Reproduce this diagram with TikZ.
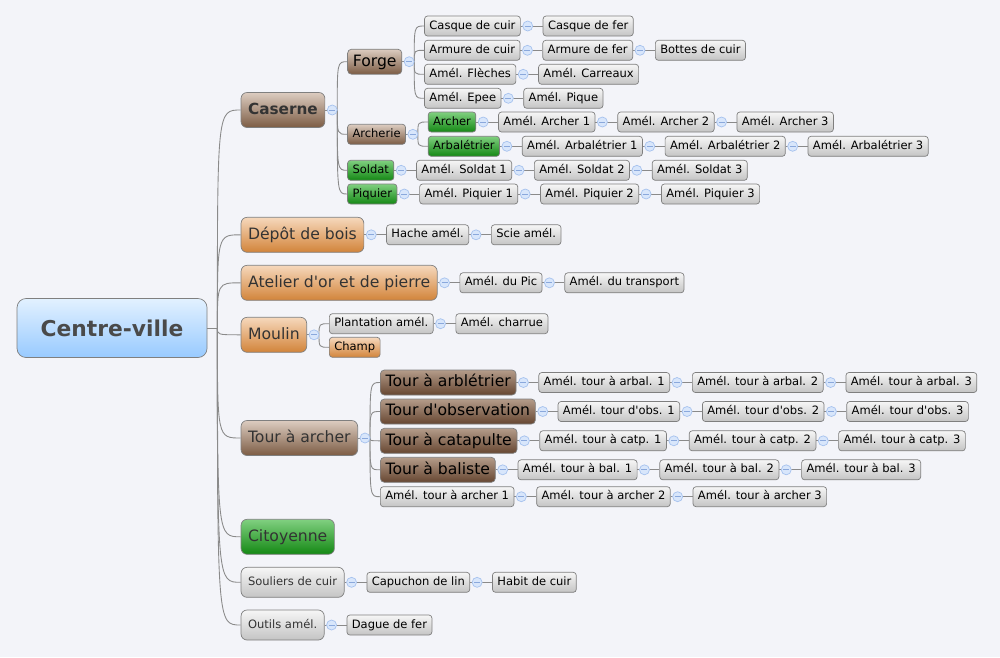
\documentclass[tikz,border=0pt]{standalone}
\usepackage{fontspec}
\setmainfont{DejaVu Sans}
\usetikzlibrary{positioning}
\definecolor{paper}{HTML}{F3F4F9}
\definecolor{edge}{HTML}{7F7F7F}
\definecolor{wire}{HTML}{8A8A8A}
\definecolor{ink}{HTML}{333333}
\definecolor{rootink}{HTML}{4A4A4A}
\definecolor{greytop}{HTML}{F6F6F6}
\definecolor{greybot}{HTML}{C4C4C4}
\definecolor{tantop}{HTML}{DCCCC0}
\definecolor{tanbot}{HTML}{7C5C44}
\definecolor{darktop}{HTML}{B49C8A}
\definecolor{darkbot}{HTML}{664631}
\definecolor{orangetop}{HTML}{F6D8BC}
\definecolor{orangebot}{HTML}{D2843A}
\definecolor{greentop}{HTML}{80D080}
\definecolor{greenbot}{HTML}{148814}
\definecolor{bluetop}{HTML}{E2F1FF}
\definecolor{bluebot}{HTML}{98CAFF}
\definecolor{foldfill}{HTML}{D8E6FB}
\definecolor{folddraw}{HTML}{A6C2EE}
\definecolor{foldbar}{HTML}{8AA8DC}
\tikzset{node distance = 4.4mm,
         mapbox/.style = {draw = edge, anchor = west, inner ysep = 0pt},
         leafsize/.style = {mapbox, rounded corners = 0.6mm,
           font = \fontsize{6.55}{7.5}\selectfont,
           text height = 5pt, text depth = 1.4pt,
           inner xsep = 2.8pt, minimum height = 4mm},
         subsize/.style = {mapbox, rounded corners = 0.8mm,
           font = \fontsize{8.9}{10.5}\selectfont,
           text height = 6.8pt, text depth = 1.9pt,
           inner xsep = 3pt, minimum height = 5mm},
         mainsize/.style = {subsize, rounded corners = 1.2mm, text = ink,
           inner xsep = 4pt, minimum height = 7mm},
         mainleafsize/.style = {leafsize, rounded corners = 1.2mm, text = ink,
           inner xsep = 4pt, minimum height = 6mm},
         headline/.style = {font = \fontsize{8.7}{10}\selectfont\bfseries},
         rootbox/.style = {mapbox, rounded corners = 1.8mm, text = rootink,
           font = \fontsize{12.4}{14}\selectfont\bfseries,
           minimum width = 3.8cm, minimum height = 11.8mm,
           top color = bluetop, bottom color = bluebot},
         greyfill/.style = {top color = greytop, bottom color = greybot},
         tanfill/.style = {top color = tantop, bottom color = tanbot},
         darkfill/.style = {top color = darktop, bottom color = darkbot},
         orangefill/.style = {top color = orangetop, bottom color = orangebot},
         greenfill/.style = {top color = greentop, bottom color = greenbot},
         link/.style = {draw = wire, line width = 0.5pt},
         fold/.style = {circle, draw = folddraw, fill = foldfill,
           minimum size = 2mm, inner sep = 0pt,
           path picture = {\draw[foldbar, line width = 0.4pt]
             ([xshift = -0.6mm]path picture bounding box.center) --
             ([xshift = 0.6mm]path picture bounding box.center);}}}

% collapse mark right of a node
\newcommand{\foldmark}[1]{\node[fold] at ([xshift = 1.4mm]#1.east) {};}
% one child on the same row
\newcommand{\chainlink}[2]{\draw[link] (#1.east) -- (#2.west); \foldmark{#1}}
% several children
\newcommand{\branchlinks}[2]{%
  \draw[link] (#1.east) -- ++(2.4mm,0) coordinate (#1-fork);
  \foreach \kid in {#2}
    \draw[link] (#1-fork) .. controls (#1-fork |- \kid.west) .. (\kid.west);
  \foldmark{#1}}

\begin{document}
\begin{tikzpicture}[x = 0.02cm, y = -0.02cm]
    \fill[paper] (0,0) rectangle (1000,657);
    \useasboundingbox (0,0) rectangle (1000,657);

    \node[rootbox]                  (centre)    at (16.7,328)    {Centre-ville};

    % first level
    \node[mainsize, tanfill, headline] (caserne) at (240.7,110)  {Caserne};
    \node[mainsize, orangefill]     (depot)     at (240.7,234.8) {Dépôt de bois};
    \node[mainsize, orangefill]     (atelier)   at (240.7,282.8) {Atelier d\textquotesingle or et de pierre};
    \node[mainsize, orangefill]     (moulin)    at (240.7,334.8) {Moulin};
    \node[mainsize, tanfill]        (tour)      at (240.7,438)   {Tour à archer};
    \node[mainsize, greenfill]      (citoyenne) at (240.7,536.8) {Citoyenne};
    \node[mainleafsize, greyfill]   (souliers)  at (240.7,582.3) {Souliers de cuir};
    \node[mainleafsize, greyfill]   (outils)    at (240.7,625)   {Outils amél.};

    % Caserne
    \node[subsize, tanfill]         (forge)     at ([xshift = 4.4mm]caserne.east |- 0,61.7) {Forge};
    \node[leafsize, tanfill]        (archerie)  at ([xshift = 4.4mm]caserne.east |- 0,134.3) {Archerie};
    \node[leafsize, greenfill]      (soldat)    at ([xshift = 4.4mm]caserne.east |- 0,170.3) {Soldat};
    \node[leafsize, greenfill]      (piquier)   at ([xshift = 4.4mm]caserne.east |- 0,194) {Piquier};

    \node[leafsize, greyfill]       (casque)    at ([xshift = 4.4mm]forge.east |- 0,26)   {Casque de cuir};
    \node[leafsize, greyfill]       (armure)    at ([xshift = 4.4mm]forge.east |- 0,50.3) {Armure de cuir};
    \node[leafsize, greyfill]       (fleches)   at ([xshift = 4.4mm]forge.east |- 0,74.3) {Amél. Flèches};
    \node[leafsize, greyfill]       (epee)      at ([xshift = 4.4mm]forge.east |- 0,98.3) {Amél. Epee};
    \node[leafsize, greyfill]       (casquefer) [right = of casque]    {Casque de fer};
    \node[leafsize, greyfill]       (armurefer) [right = of armure]    {Armure de fer};
    \node[leafsize, greyfill]       (bottes)    [right = of armurefer] {Bottes de cuir};
    \node[leafsize, greyfill]       (carreaux)  [right = of fleches]   {Amél. Carreaux};
    \node[leafsize, greyfill]       (pique)     [right = of epee]      {Amél. Pique};

    \node[leafsize, greenfill]      (archer)    at ([xshift = 4.4mm]archerie.east |- 0,122)   {Archer};
    \node[leafsize, greenfill]      (arbal)     at ([xshift = 4.4mm]archerie.east |- 0,146.3) {Arbalétrier};
    \node[leafsize, greyfill]       (archer1)   [right = of archer]  {Amél. Archer 1};
    \node[leafsize, greyfill]       (archer2)   [right = of archer1] {Amél. Archer 2};
    \node[leafsize, greyfill]       (archer3)   [right = of archer2] {Amél. Archer 3};
    \node[leafsize, greyfill]       (arbal1)    [right = of arbal]   {Amél. Arbalétrier 1};
    \node[leafsize, greyfill]       (arbal2)    [right = of arbal1]  {Amél. Arbalétrier 2};
    \node[leafsize, greyfill]       (arbal3)    [right = of arbal2]  {Amél. Arbalétrier 3};

    \node[leafsize, greyfill]       (soldat1)   [right = of soldat]   {Amél. Soldat 1};
    \node[leafsize, greyfill]       (soldat2)   [right = of soldat1]  {Amél. Soldat 2};
    \node[leafsize, greyfill]       (soldat3)   [right = of soldat2]  {Amél. Soldat 3};
    \node[leafsize, greyfill]       (piquier1)  [right = of piquier]  {Amél. Piquier 1};
    \node[leafsize, greyfill]       (piquier2)  [right = of piquier1] {Amél. Piquier 2};
    \node[leafsize, greyfill]       (piquier3)  [right = of piquier2] {Amél. Piquier 3};

    % resources
    \node[leafsize, greyfill]       (hache)     [right = of depot]   {Hache amél.};
    \node[leafsize, greyfill]       (scie)      [right = of hache]   {Scie amél.};
    \node[leafsize, greyfill]       (pic)       [right = of atelier] {Amél. du Pic};
    \node[leafsize, greyfill]       (transport) [right = of pic]     {Amél. du transport};
    \node[leafsize, greyfill]       (plantation) at ([xshift = 4.4mm]moulin.east |- 0,323.7) {Plantation amél.};
    \node[leafsize, orangefill]     (champ)     at ([xshift = 4.4mm]moulin.east |- 0,347.3)  {Champ};
    \node[leafsize, greyfill]       (charrue)   [right = of plantation] {Amél. charrue};

    % Tour a archer
    \node[subsize, darkfill]        (tarbal)    at ([xshift = 4.4mm]tour.east |- 0,382.5) {Tour à arblétrier};
    \node[subsize, darkfill]        (tobs)      at ([xshift = 4.4mm]tour.east |- 0,411.5) {Tour d\textquotesingle observation};
    \node[subsize, darkfill]        (tcatp)     at ([xshift = 4.4mm]tour.east |- 0,440.8) {Tour à catapulte};
    \node[subsize, darkfill]        (tbal)      at ([xshift = 4.4mm]tour.east |- 0,469.8) {Tour à baliste};
    \node[leafsize, greyfill]       (tarch1)    at ([xshift = 4.4mm]tour.east |- 0,496.7) {Amél. tour à archer 1};
    \node[leafsize, greyfill]       (tarbal1)   [right = of tarbal]  {Amél. tour à arbal. 1};
    \node[leafsize, greyfill]       (tarbal2)   [right = of tarbal1] {Amél. tour à arbal. 2};
    \node[leafsize, greyfill]       (tarbal3)   [right = of tarbal2] {Amél. tour à arbal. 3};
    \node[leafsize, greyfill]       (tobs1)     [right = of tobs]    {Amél. tour d\textquotesingle obs. 1};
    \node[leafsize, greyfill]       (tobs2)     [right = of tobs1]   {Amél. tour d\textquotesingle obs. 2};
    \node[leafsize, greyfill]       (tobs3)     [right = of tobs2]   {Amél. tour d\textquotesingle obs. 3};
    \node[leafsize, greyfill]       (tcatp1)    [right = of tcatp]   {Amél. tour à catp. 1};
    \node[leafsize, greyfill]       (tcatp2)    [right = of tcatp1]  {Amél. tour à catp. 2};
    \node[leafsize, greyfill]       (tcatp3)    [right = of tcatp2]  {Amél. tour à catp. 3};
    \node[leafsize, greyfill]       (tbal1)     [right = of tbal]    {Amél. tour à bal. 1};
    \node[leafsize, greyfill]       (tbal2)     [right = of tbal1]   {Amél. tour à bal. 2};
    \node[leafsize, greyfill]       (tbal3)     [right = of tbal2]   {Amél. tour à bal. 3};
    \node[leafsize, greyfill]       (tarch2)    [right = of tarch1]  {Amél. tour à archer 2};
    \node[leafsize, greyfill]       (tarch3)    [right = of tarch2]  {Amél. tour à archer 3};

    % equipment
    \node[leafsize, greyfill]       (capuchon)  [right = of souliers] {Capuchon de lin};
    \node[leafsize, greyfill]       (habit)     [right = of capuchon] {Habit de cuir};
    \node[leafsize, greyfill]       (dague)     [right = of outils]   {Dague de fer};

    % connectors
    \draw[link] (centre.east) -- ++(2mm,0) coordinate (centre-fork);
    \foreach \kid in {caserne, depot, atelier, moulin, tour, citoyenne, souliers, outils}
        \draw[link] (centre-fork) .. controls (centre-fork |- \kid.west) .. (\kid.west);

    \branchlinks{caserne}{forge, archerie, soldat, piquier}
    \branchlinks{forge}{casque, armure, fleches, epee}
    \branchlinks{archerie}{archer, arbal}
    \branchlinks{moulin}{plantation, champ}
    \branchlinks{tour}{tarbal, tobs, tcatp, tbal, tarch1}

    \chainlink{casque}{casquefer}
    \chainlink{armure}{armurefer}  \chainlink{armurefer}{bottes}
    \chainlink{fleches}{carreaux}
    \chainlink{epee}{pique}
    \chainlink{archer}{archer1}    \chainlink{archer1}{archer2}   \chainlink{archer2}{archer3}
    \chainlink{arbal}{arbal1}      \chainlink{arbal1}{arbal2}     \chainlink{arbal2}{arbal3}
    \chainlink{soldat}{soldat1}    \chainlink{soldat1}{soldat2}   \chainlink{soldat2}{soldat3}
    \chainlink{piquier}{piquier1}  \chainlink{piquier1}{piquier2} \chainlink{piquier2}{piquier3}
    \chainlink{depot}{hache}       \chainlink{hache}{scie}
    \chainlink{atelier}{pic}       \chainlink{pic}{transport}
    \chainlink{plantation}{charrue}
    \chainlink{tarbal}{tarbal1}    \chainlink{tarbal1}{tarbal2}   \chainlink{tarbal2}{tarbal3}
    \chainlink{tobs}{tobs1}        \chainlink{tobs1}{tobs2}       \chainlink{tobs2}{tobs3}
    \chainlink{tcatp}{tcatp1}      \chainlink{tcatp1}{tcatp2}     \chainlink{tcatp2}{tcatp3}
    \chainlink{tbal}{tbal1}        \chainlink{tbal1}{tbal2}       \chainlink{tbal2}{tbal3}
    \chainlink{tarch1}{tarch2}     \chainlink{tarch2}{tarch3}
    \chainlink{souliers}{capuchon} \chainlink{capuchon}{habit}
    \chainlink{outils}{dague}
\end{tikzpicture}
\end{document}
